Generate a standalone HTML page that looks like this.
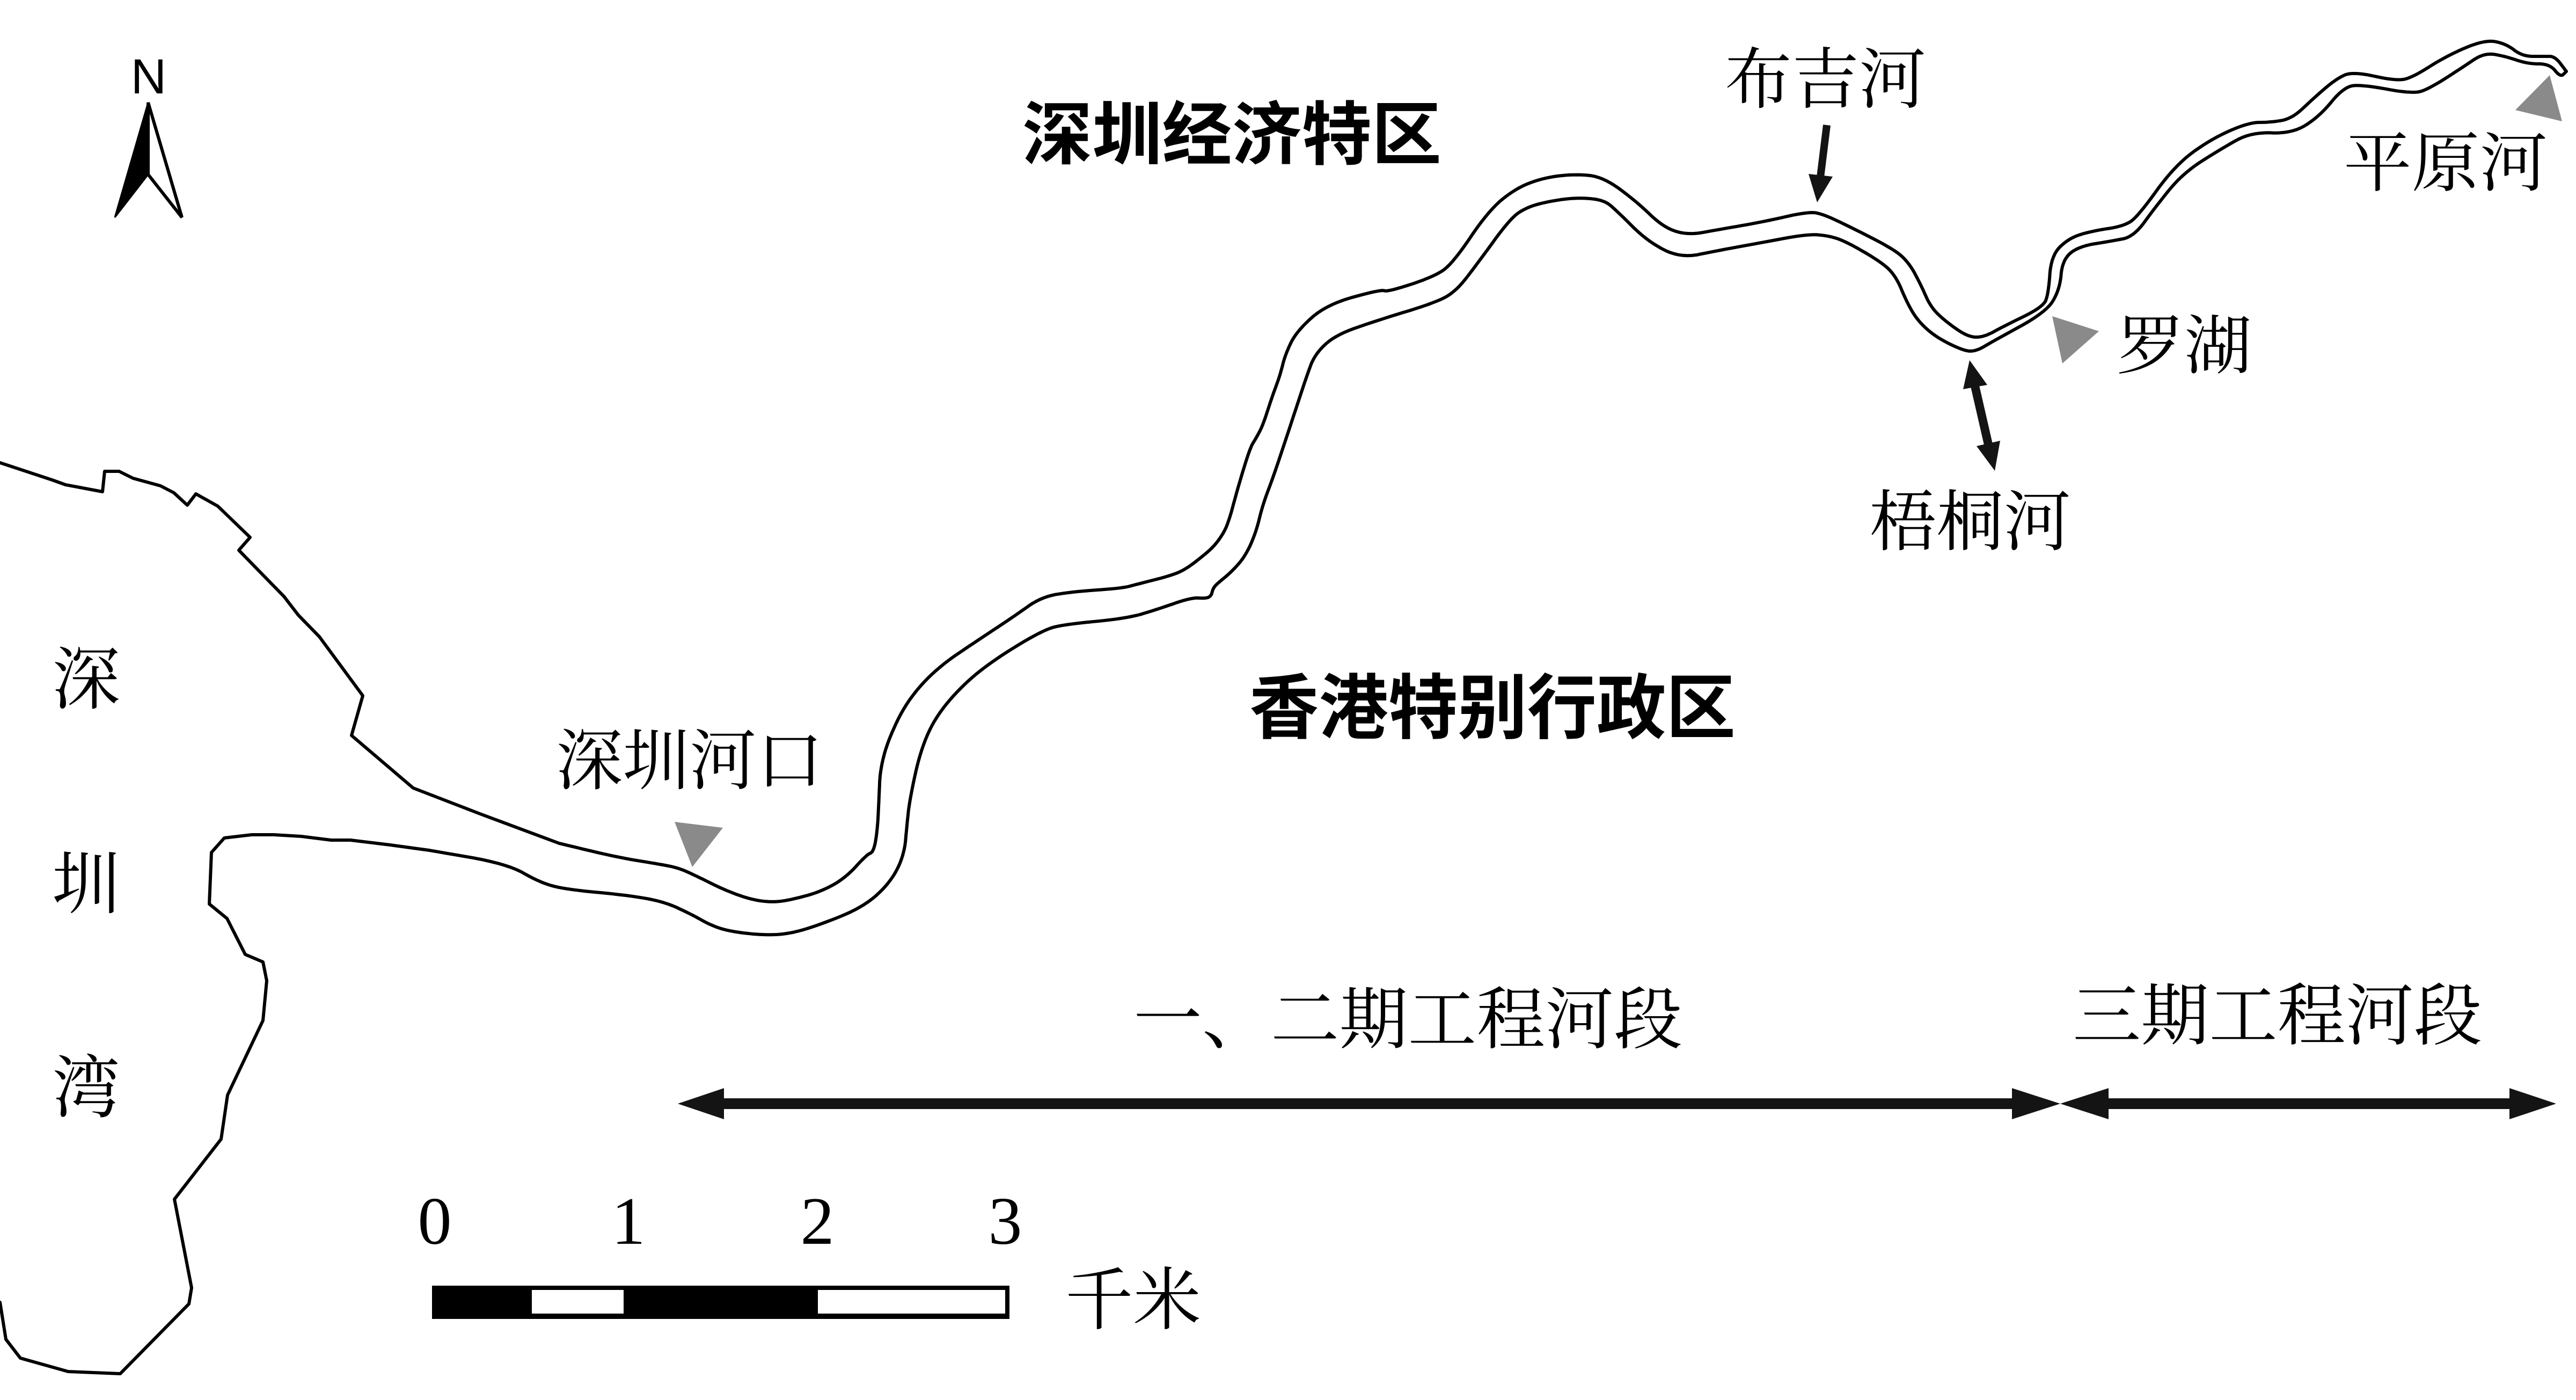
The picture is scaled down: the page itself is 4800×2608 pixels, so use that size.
<!DOCTYPE html>
<html>
<head>
<meta charset="utf-8">
<style>
  html, body { margin: 0; padding: 0; background: #ffffff; }
  body { width: 4800px; height: 2608px; overflow: hidden; }
  svg { display: block; }
  .serif { font-family: "Liberation Serif", "Noto Serif CJK SC", serif; fill: #000; }
  .bold { font-family: "Liberation Sans", "Noto Sans CJK SC", sans-serif; font-weight: bold; fill: #000; }
  .sans { font-family: "Liberation Sans", sans-serif; fill: #000; }
</style>
</head>
<body>
<svg width="4800" height="2608" viewBox="0 0 4800 2608" xmlns="http://www.w3.org/2000/svg">
  <rect x="0" y="0" width="4800" height="2608" fill="#ffffff"/>

  <g fill="none" stroke="#000" stroke-width="6" stroke-linejoin="round" stroke-linecap="round">
    <!-- North coastline (sharp) -->
    <polyline points="0,862 97,894 122,903 191,916 195,878 222,878 248,891 299,905 324,918 349,941 365,920 406,943 466,1001 445,1025 529,1111 556,1146 595,1186 676,1296 655,1370 770,1468 897,1517 1042,1571"/>
    <!-- North river bank (smoothed) -->
    <polyline class="smooth" points="1042,1571 1150,1597 1230,1610 1265,1617 1300,1633 1350,1658 1400,1676 1440,1681 1475,1676 1530,1661 1576,1635 1615,1592 1628,1587 1635,1546 1638,1485 1640,1434 1655,1378 1690,1306 1745,1245 1820,1194 1890,1148 1940,1112 2000,1102 2090,1096 2120,1088 2183,1072 2210,1060 2240,1037 2263,1017 2282,990 2292,963 2300,933 2313,887 2330,833 2340,817 2353,793 2370,740 2385,700 2395,660 2416,617 2472,567 2574,539 2585,544 2671,516 2707,491 2773,393 2824,351 2876,331 2937,324 2988,330 3049,375 3100,424 3146,438 3200,428 3282,414 3370,394 3397,399 3440,419 3527,463 3557,489 3580,532 3597,571 3623,597 3667,628 3697,628 3733,608 3807,572 3817,547 3822,477 3853,445 3894,431 3960,421 3986,400 4052,309 4118,260 4190,228 4231,228 4271,221 4312,182 4353,147 4384,133 4465,151 4496,144 4557,105 4629,74 4669,81 4700,105 4741,105 4761,105 4782,133"/>

    <!-- Bay shoreline (sharp) -->
    <polyline points="0,2426 11,2495 38,2530 127,2555 224,2559 352,2429 357,2399 325,2234 412,2122 424,2040 490,1901 497,1827 490,1792 457,1778 423,1711 390,1684 394,1588 418,1561 469,1555 510,1555 561,1558 617,1565 653,1565 727,1574 800,1584"/>
    <!-- South river bank (smoothed) -->
    <polyline class="smooth" points="800,1584 945,1609 1006,1644 1055,1657 1164,1667 1236,1679 1290,1704 1325,1724 1360,1735 1420,1742 1470,1740 1530,1722 1610,1689 1660,1643 1685,1592 1690,1536 1695,1490 1715,1398 1745,1332 1800,1270 1860,1224 1945,1173 1985,1163 2100,1152 2157,1135 2220,1113 2247,1115 2257,1110 2260,1097 2267,1088 2293,1067 2320,1037 2340,993 2353,940 2373,887 2393,827 2413,767 2435,700 2450,660 2488,624 2569,596 2671,565 2712,544 2753,491 2814,407 2845,386 2886,375 2937,368 2988,372 3013,393 3069,449 3131,481 3200,467 3282,452 3368,436 3407,439 3440,450 3507,489 3533,515 3553,563 3573,597 3607,628 3660,654 3683,654 3713,636 3812,582 3838,540 3843,484 3873,459 3935,449 3976,441 4016,386 4067,323 4139,277 4195,246 4271,249 4322,217 4368,161 4404,158 4496,175 4527,165 4588,126 4629,98 4669,105 4710,119 4751,119 4771,144 4782,133"/>
  </g>

  <!-- North arrow -->
  <polygon points="276,191 214,405 276,325" fill="#000" stroke="#000" stroke-width="3" stroke-linejoin="miter"/>
  <polygon points="276,191 339,405 276,325" fill="#fff" stroke="#000" stroke-width="6" stroke-linejoin="miter"/>
  <text class="sans" x="277" y="174" font-size="92" text-anchor="middle">N</text>

  <!-- Gray markers -->
  <polygon points="1257,1531 1347,1542 1290,1615" fill="#8a8a8a"/>
  <polygon points="3824,589 3911,617 3843,677" fill="#8a8a8a"/>
  <polygon points="4751,140 4774,226 4687,205" fill="#8a8a8a"/>

  <!-- 布吉河 arrow -->
  <line x1="3404" y1="233" x2="3392" y2="330" stroke="#141414" stroke-width="14"/>
  <polygon points="3370,324 3415,329 3386,377" fill="#141414"/>

  <!-- 梧桐河 double arrow -->
  <line x1="3680" y1="719" x2="3705" y2="828" stroke="#141414" stroke-width="16"/>
  <polygon points="3670,671 3658,725 3703,717" fill="#141414"/>
  <polygon points="3717,877 3683,831 3727,821" fill="#141414"/>

  <!-- Big section arrows -->
  <polygon fill="#141414" points="1263,2056 1349,2027 1349,2046 3749,2046 3749,2027 3839,2056 3749,2085 3749,2066 1349,2066 1349,2085"/>
  <polygon fill="#141414" points="3839,2056 3929,2027 3929,2046 4676,2046 4676,2027 4763,2056 4676,2085 4676,2066 3929,2066 3929,2085"/>

  <!-- Scale bar -->
  <rect x="805" y="2395" width="1076" height="62" fill="#000"/>
  <rect x="991" y="2403" width="171" height="44" fill="#fff"/>
  <rect x="1524" y="2403" width="349" height="44" fill="#fff"/>
  <text class="serif" x="810" y="2317" font-size="126" text-anchor="middle">0</text>
  <text class="serif" x="1171" y="2317" font-size="126" text-anchor="middle">1</text>
  <text class="serif" x="1523" y="2317" font-size="126" text-anchor="middle">2</text>
  <text class="serif" x="1873" y="2317" font-size="126" text-anchor="middle">3</text>
  <text class="serif" x="1985" y="2466" font-size="127" textLength="253" lengthAdjust="spacingAndGlyphs">千米</text>

  <!-- Region labels (bold) -->
  <text class="bold" x="1905" y="296" font-size="129" textLength="781" lengthAdjust="spacingAndGlyphs">深圳经济特区</text>
  <text class="bold" x="2328" y="1365" font-size="132" textLength="906" lengthAdjust="spacingAndGlyphs">香港特别行政区</text>

  <!-- Place labels -->
  <text class="serif" x="1036" y="1460" font-size="124" textLength="498" lengthAdjust="spacingAndGlyphs">深圳河口</text>
  <text class="serif" x="3214" y="191" font-size="124" textLength="375" lengthAdjust="spacingAndGlyphs">布吉河</text>
  <text class="serif" x="3483" y="1015" font-size="124" textLength="376" lengthAdjust="spacingAndGlyphs">梧桐河</text>
  <text class="serif" x="3944" y="686" font-size="120" textLength="252" lengthAdjust="spacingAndGlyphs">罗湖</text>
  <text class="serif" x="4367" y="346" font-size="121" textLength="380" lengthAdjust="spacingAndGlyphs">平原河</text>

  <!-- Section labels -->
  <text class="serif" x="2112" y="1943" font-size="126" textLength="1023" lengthAdjust="spacingAndGlyphs">一、二期工程河段</text>
  <text class="serif" x="3862" y="1936" font-size="126" textLength="763" lengthAdjust="spacingAndGlyphs">三期工程河段</text>

  <!-- Bay vertical label -->
  <text class="serif" x="97" y="1310" font-size="127">深</text>
  <text class="serif" x="97" y="1691" font-size="127">圳</text>
  <text class="serif" x="97" y="2071" font-size="127">湾</text>
</svg>
<script>
(function () {
  var lines = document.querySelectorAll('polyline.smooth');
  for (var i = 0; i < lines.length; i++) {
    var raw = lines[i].getAttribute('points').trim().split(/\s+/);
    var pts = raw.map(function (s) { var p = s.split(','); return [parseFloat(p[0]), parseFloat(p[1])]; });
    for (var it = 0; it < 3; it++) {
      var out = [pts[0]];
      for (var j = 0; j < pts.length - 1; j++) {
        var a = pts[j], b = pts[j + 1];
        out.push([0.75 * a[0] + 0.25 * b[0], 0.75 * a[1] + 0.25 * b[1]]);
        out.push([0.25 * a[0] + 0.75 * b[0], 0.25 * a[1] + 0.75 * b[1]]);
      }
      out.push(pts[pts.length - 1]);
      pts = out;
    }
    lines[i].setAttribute('points', pts.map(function (p) { return p[0].toFixed(1) + ',' + p[1].toFixed(1); }).join(' '));
  }
})();
</script>
</body>
</html>
